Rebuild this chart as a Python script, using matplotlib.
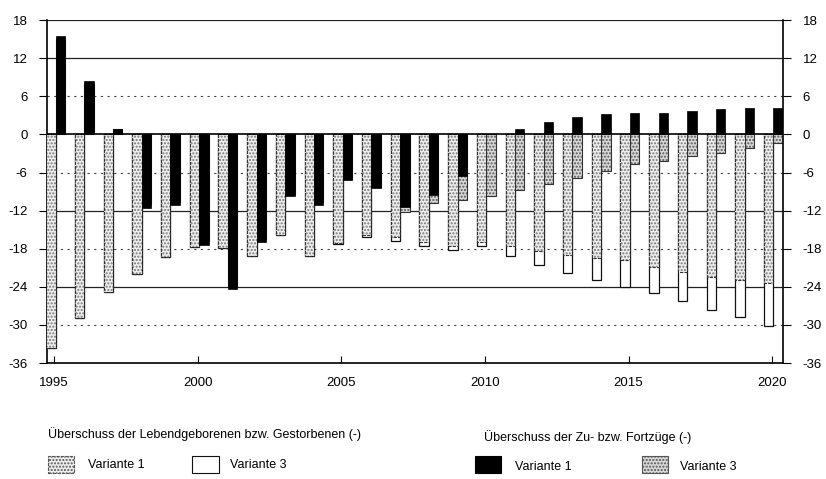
import matplotlib
matplotlib.use("Agg")
import matplotlib.pyplot as plt
from matplotlib.patches import Rectangle
import numpy as np

plt.rcParams['font.family'] = ['Liberation Sans', 'DejaVu Sans']

years = list(range(1995, 2021))
# Überschuss der Lebendgeborenen bzw. Gestorbenen (-)
nat_v1 = [-33.6, -28.9, -24.8, -22.0, -19.3, -17.7, -17.9, -19.1, -15.8, -19.2,
          -17.1, -15.8, -16.2, -17.0, -17.6, -17.0, -17.5, -18.4, -19.0, -19.5,
          -19.8, -20.8, -21.6, -22.4, -22.9, -23.4]
nat_v3 = [-33.6, -28.9, -24.8, -22.0, -19.3, -17.7, -17.9, -19.1, -15.8, -19.2,
          -17.3, -16.1, -16.8, -17.5, -18.2, -17.6, -19.2, -20.6, -21.8, -22.9,
          -24.0, -25.0, -26.3, -27.6, -28.7, -30.1]
# Überschuss der Zu- bzw. Fortzüge (-)
mig_v1 = [15.5, 8.4, 0.9, -11.6, -11.1, -17.4, -24.4, -17.0, -9.7, -11.1,
          -7.2, -8.4, -11.4, -9.5, -6.5, 0.0, 0.9, 2.0, 2.8, 3.2,
          3.3, 3.3, 3.7, 4.0, 4.2, 4.2]
mig_v3 = [15.0, 8.0, 0.8, -11.0, -10.6, -16.8, -23.8, -16.4, -9.3, -10.7,
          -7.0, -8.2, -12.2, -10.8, -10.3, -9.7, -8.7, -7.8, -6.9, -5.8,
          -4.7, -4.2, -3.4, -2.9, -2.1, -1.3]

yticks = [18, 12, 6, 0, -6, -12, -18, -24, -30, -36]
xticks = [1995, 2000, 2005, 2010, 2015, 2020]
legend_title_nat = "Überschuss der Lebendgeborenen bzw. Gestorbenen (-)"
legend_title_mig = "Überschuss der Zu- bzw. Fortzüge (-)"
variant_labels = ["Variante 1", "Variante 3"]

fig = plt.figure(figsize=(8.26, 4.79), dpi=100)
ax = fig.add_axes([0.057, 0.242, 0.891, 0.716])

x = np.array(years, dtype=float)
w = 0.33
xn = x - 0.12
xm = x + 0.21

# gridlines
for v in yticks:
    if v in (12, -12, -24, 18):
        ax.axhline(v, color='#222222', lw=0.9, zorder=0)
    elif v in (6, -6, -18, -30):
        ax.axhline(v, color='#444444', lw=0.8, ls=(0, (2, 4)), zorder=0)

# natural balance bars
ax.bar(xn, nat_v3, width=w, color='white', edgecolor='#111111', lw=0.9, zorder=2)
ax.bar(xn, nat_v1, width=w, color='#eeeeee', edgecolor='#777777', hatch='.....', lw=0, zorder=3)
ax.bar(xn, nat_v1, width=w, fill=False, edgecolor='#333333', lw=0.8, ls=(0, (3, 1)), zorder=4)

# migration bars
ax.bar(xm, mig_v3, width=w, color='#d8d8d8', edgecolor='#555555', hatch='.....', lw=0, zorder=2)
ax.bar(xm, mig_v3, width=w, fill=False, edgecolor='#333333', lw=0.8, zorder=2.5)
ax.bar(xm, mig_v1, width=w, color='black', edgecolor='black', lw=0.5, zorder=5)

ax.axhline(0, color='black', lw=1.2, zorder=6)

ax.set_xlim(1994.75, 2020.38)
ax.set_ylim(-36, 18)
ax.set_yticks(yticks)
ax.set_yticklabels([str(v) for v in yticks], fontsize=9.5)
ax.set_xticks(xticks)
ax.set_xticklabels([str(v) for v in xticks], fontsize=9.5)
ax.tick_params(axis='y', which='both', direction='out', length=6, width=0.8,
               left=True, right=True, labelleft=True, labelright=True, pad=8)
ax.tick_params(axis='x', direction='in', length=5, width=0.8, pad=10)
ax.spines['top'].set_visible(False)
for s in ('left', 'right', 'bottom'):
    ax.spines[s].set_linewidth(1.2)
    ax.spines[s].set_color('black')

# legend (figure coordinates)
fig.text(0.058, 0.093, legend_title_nat, fontsize=9, ha='left', va='center')
fig.text(0.586, 0.088, legend_title_mig, fontsize=9, ha='left', va='center')

def box(xf, face, hatch=None, edge='#333333', ls='-'):
    r = Rectangle((xf, 0.012), 0.032, 0.035, transform=fig.transFigure,
                  facecolor=face, edgecolor=edge, hatch=hatch, lw=0.8, ls=ls)
    fig.patches.append(r)

box(0.058, '#eeeeee', '.....', '#555555', (0, (3, 1)))
fig.text(0.107, 0.030, variant_labels[0], fontsize=9, ha='left', va='center')
box(0.233, 'white', None, '#111111')
fig.text(0.279, 0.030, variant_labels[1], fontsize=9, ha='left', va='center')
box(0.575, 'black', None, 'black')
fig.text(0.624, 0.026, variant_labels[0], fontsize=9, ha='left', va='center')
box(0.777, '#d8d8d8', '.....', '#555555')
fig.text(0.823, 0.026, variant_labels[1], fontsize=9, ha='left', va='center')

fig.savefig("out.png", dpi=100)
